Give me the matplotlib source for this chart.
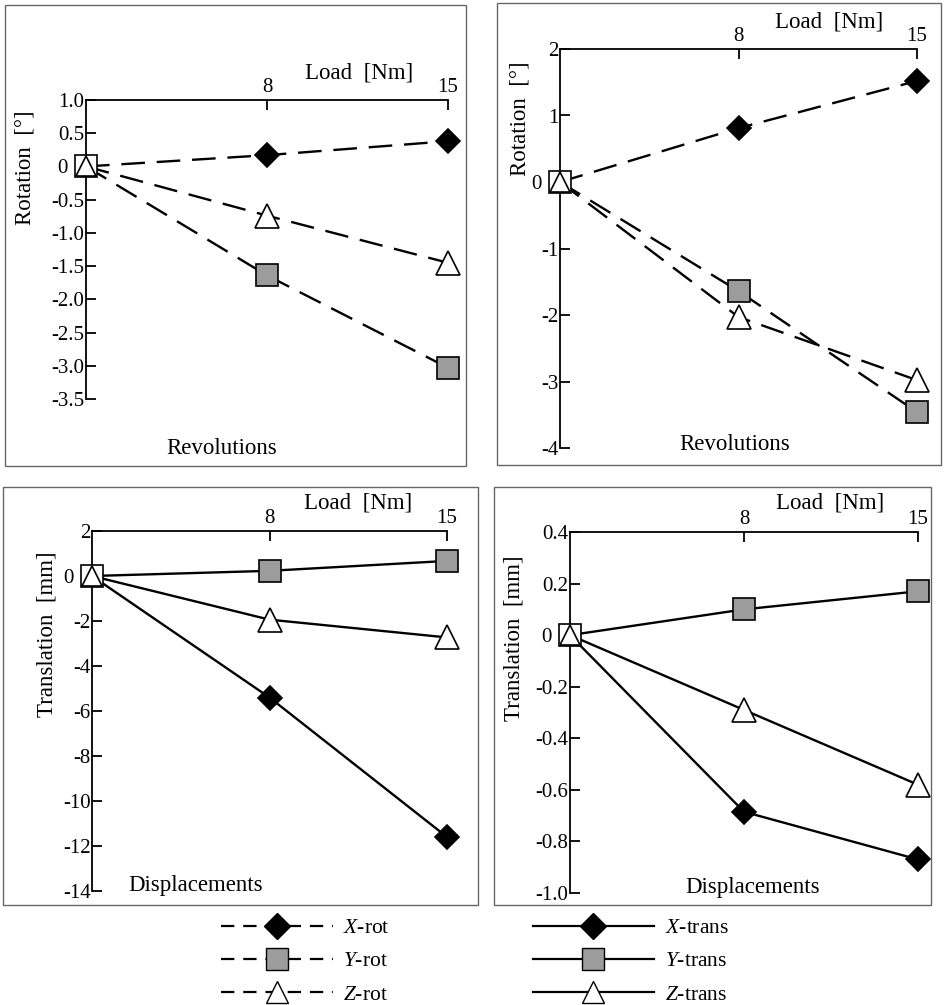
import matplotlib
matplotlib.use("Agg")
import matplotlib.pyplot as plt
from matplotlib.lines import Line2D
from matplotlib.patches import Rectangle

plt.rcParams['font.family'] = ['Liberation Serif', 'DejaVu Serif']
plt.rcParams['mathtext.fontset'] = 'custom'
plt.rcParams['mathtext.it'] = 'Liberation Serif:italic'
plt.rcParams['mathtext.rm'] = 'Liberation Serif'

# donnees
loads = ["0", "8", "15"]

rev_rot_x = [0, 0.17, 0.38]
rev_rot_y = [0, -1.64, -3.03]
rev_rot_z = [0, -0.74, -1.45]

rev2_rot_x = [0, 0.81, 1.52]
rev2_rot_y = [0, -1.64, -3.46]
rev2_rot_z = [0, -2.03, -2.98]

disp_tr_x = [0, -5.4, -11.6]
disp_tr_y = [0, 0.23, 0.67]
disp_tr_z = [0, -1.94, -2.73]

disp2_tr_x = [0, -0.685, -0.87]
disp2_tr_y = [0, 0.1, 0.17]
disp2_tr_z = [0, -0.29, -0.58]

yticks_1 = [1.0, 0.5, 0, -0.5, -1.0, -1.5, -2.0, -2.5, -3.0, -3.5]
yticks_2 = [2, 1, 0, -1, -2, -3, -4]
yticks_3 = [2, 0, -2, -4, -6, -8, -10, -12, -14]
yticks_4 = [0.4, 0.2, 0, -0.2, -0.4, -0.6, -0.8, -1.0]

W, H = 948, 1005
fig = plt.figure(figsize=(W / 100, H / 100), dpi=100)


def fx(px):
    return px / W


def fy(py):
    return 1 - py / H


def fmt(v, dec):
    if v == 0:
        return "0   "  # decale pour ne pas passer sous le marqueur
    return ("%." + str(dec) + "f") % v


DASH = (0, (10, 5))
GRIS = '#9c9c9c'


def panneau(box, pos, ys, yticks, dec, ls, ylab, xlab, ylab_pos, load_pos, xlab_pos):
    # cadre autour du panneau
    x0, y0, x1, y1 = box
    fig.patches.append(Rectangle((fx(x0), fy(y1)), fx(x1 - x0), (y1 - y0) / H,
                                 transform=fig.transFigure, fill=False,
                                 edgecolor='#666666', lw=1.0))
    l, r, t, b = pos
    ax = fig.add_axes([fx(l), fy(b), fx(r - l), (b - t) / H])
    ax.set_facecolor('none')
    ax.set_xlim(0, 2)
    ax.set_ylim(yticks[-1], yticks[0])
    for s in ['right', 'bottom']:
        ax.spines[s].set_visible(False)
    for s in ['left', 'top']:
        ax.spines[s].set_linewidth(1.3)
    ax.xaxis.tick_top()
    ax.set_xticks([1, 2])
    ax.set_xticklabels(loads[1:])
    ax.set_yticks(yticks)
    ax.set_yticklabels([fmt(v, dec) for v in yticks])
    ax.tick_params(direction='in', length=7, width=1.3, labelsize=15, pad=2)
    ax.tick_params(axis='y', pad=1)

    x = [0, 1, 2]
    mk = [('D', 'black', 12.5), ('s', GRIS, 16), ('^', 'white', 17)]
    for serie, (m, c, ms) in zip(ys, mk):
        ax.plot(x, serie, ls=ls, color='black', lw=1.7, zorder=2, clip_on=False)
        ax.plot(x[1:], serie[1:], ls='none', marker=m, ms=ms, mfc=c, mec='black',
                mew=1.2, zorder=3, clip_on=False)
    # a l'origine : carre blanc + triangle
    ax.plot(x[0], ys[1][0], marker='s', ms=16, mfc='white', mec='black', mew=1.2,
            zorder=4, clip_on=False)
    ax.plot(x[0], ys[2][0], marker='^', ms=14.5, mfc='white', mec='black', mew=1.2,
            zorder=5, clip_on=False)

    fig.text(fx(ylab_pos[0]), fy(ylab_pos[1]), ylab, rotation=90, ha='center',
             va='center', fontsize=16.5)
    fig.text(fx(load_pos[0]), fy(load_pos[1]), "Load  [Nm]", ha='center', va='center',
             fontsize=16.5)
    fig.text(fx(xlab_pos[0]), fy(xlab_pos[1]), xlab, ha='center', va='center',
             fontsize=16.5)
    return ax


ax1 = panneau((5, 5, 466, 466), (86, 448, 100, 399),
              [rev_rot_x, rev_rot_y, rev_rot_z], yticks_1, 1, DASH,
              "Rotation  [°]", "Revolutions", (25, 168), (359, 73), (222, 449))
ax2 = panneau((497, 3, 941, 465), (560, 917, 49, 448),
              [rev2_rot_x, rev2_rot_y, rev2_rot_z], yticks_2, 0, DASH,
              "Rotation  [°]", "Revolutions", (520, 119), (829, 22), (735, 445))
ax3 = panneau((3, 487, 478, 905), (92, 447, 531, 891),
              [disp_tr_x, disp_tr_y, disp_tr_z], yticks_3, 0, '-',
              "Translation  [mm]", "Displacements", (47, 634), (358, 503), (196, 885))
ax4 = panneau((494, 487, 931, 905), (570, 918, 532, 893),
              [disp2_tr_x, disp2_tr_y, disp2_tr_z], yticks_4, 1, '-',
              "Translation  [mm]", "Displacements", (514, 638), (830, 503), (753, 887))


# legendes
def poignees(ls):
    return [Line2D([], [], ls=ls, color='black', lw=1.6, marker='D', ms=13.5, mfc='black', mec='black'),
            Line2D([], [], ls=ls, color='black', lw=1.6, marker='s', ms=16, mfc=GRIS, mec='black'),
            Line2D([], [], ls=ls, color='black', lw=1.6, marker='^', ms=16, mfc='white', mec='black')]


fig.legend(poignees((0, (6, 4))), [r"$\it{X}$-rot", r"$\it{Y}$-rot", r"$\it{Z}$-rot"],
           loc='upper left', bbox_to_anchor=(fx(221), fy(918)), frameon=False,
           borderaxespad=0, borderpad=0,
           fontsize=15.5, handlelength=5.2, labelspacing=0.62, handletextpad=0.45)
fig.legend(poignees('-'), [r"$\it{X}$-trans", r"$\it{Y}$-trans", r"$\it{Z}$-trans"],
           loc='upper left', bbox_to_anchor=(fx(533), fy(918)), frameon=False,
           borderaxespad=0, borderpad=0,
           fontsize=15.5, handlelength=5.6, labelspacing=0.62, handletextpad=0.55)

fig.savefig("out.png", dpi=100)
